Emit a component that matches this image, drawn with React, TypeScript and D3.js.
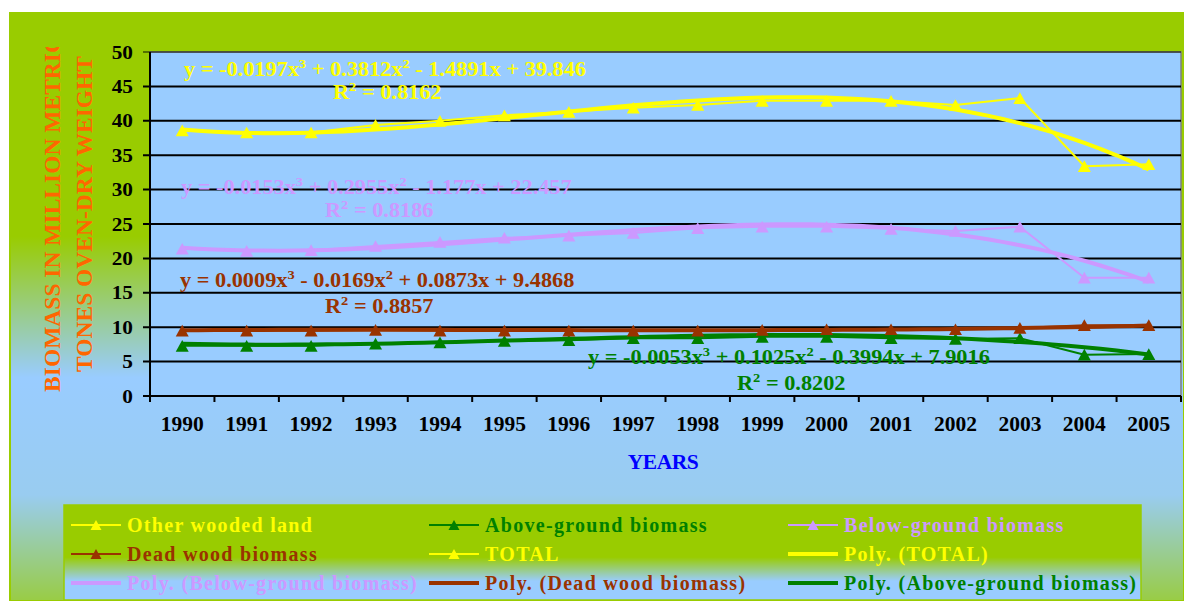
import React from 'react';
import * as d3 from 'd3';

// ---------- data ----------
const years = ['1990','1991','1992','1993','1994','1995','1996','1997','1998','1999','2000','2001','2002','2003','2004','2005'];
const totalValues = [38.6, 38.3, 38.3, 39.4, 40.0, 40.8, 41.3, 41.9, 42.3, 42.9, 42.9, 42.9, 42.3, 43.3, 33.4, 33.7];
const belowGroundValues = [21.4, 21.1, 21.2, 21.8, 22.4, 23.0, 23.3, 23.7, 24.4, 24.6, 24.6, 24.3, 24.0, 24.6, 17.2, 17.2];
const deadWoodValues = [9.5, 9.5, 9.5, 9.6, 9.5, 9.5, 9.5, 9.5, 9.5, 9.6, 9.7, 9.7, 9.7, 9.9, 10.3, 10.3];
const aboveGroundValues = [7.3, 7.3, 7.3, 7.6, 7.8, 8.0, 8.1, 8.4, 8.4, 8.6, 8.6, 8.4, 8.3, 8.4, 6.0, 6.1];
// "Other wooded land" appears only in the legend (no visible separate marks)
const otherWoodedValues: number[] = [];

// polynomial trend coefficients (x^3, x^2, x, c) and R^2 as printed on the chart
const totalCoef = [-0.0197, 0.3812, -1.4891, 39.846];
const belowCoef = [-0.0153, 0.2955, -1.177, 22.457];
const deadCoef = [0.0009, -0.0169, 0.0873, 9.4868];
const aboveCoef = [-0.0053, 0.1025, -0.3994, 7.9016];
const totalR2 = '0.8162';
const belowR2 = '0.8186';
const deadR2 = '0.8857';
const aboveR2 = '0.8202';

const yTicks = [0, 5, 10, 15, 20, 25, 30, 35, 40, 45, 50];

const C = {
  yellow: '#FFFF00',
  pink: '#CC99FF',
  brown: '#993300',
  green: '#008000',
};

const FONT = '"Liberation Serif", "Times New Roman", serif';

// ---------- layout ----------
const W = 1184, H = 601;
const chart = { x: 10, y: 13, w: 1174, h: 588 };
const plot = { left: 150, top: 52, right: 1181, bottom: 396 };

const x = d3.scaleBand<string>().domain(years).range([plot.left, plot.right]).paddingInner(0).paddingOuter(0);
const cx = (i: number) => (x(years[i]) as number) + x.bandwidth() / 2;
const xi = d3.scaleLinear().domain([1, 16]).range([cx(0), cx(15)]);
const y = d3.scaleLinear().domain([0, 50]).range([plot.bottom, plot.top]);

const poly = (c: number[]) => (t: number) => c[0] * t * t * t + c[1] * t * t + c[2] * t + c[3];

const lineGen = d3.line<number>().x((_, i) => cx(i)).y((d) => y(d));
const trendGen = (c: number[]) => {
  const f = poly(c);
  const ts = d3.range(1, 16.0001, 0.25);
  return d3.line<number>().x((t) => xi(t)).y((t) => y(f(t)))(ts) as string;
};

const tri = (px: number, py: number, s: number) => {
  const h = s * 0.9;
  return `M${px},${py - h / 2}L${px + s / 2},${py + h / 2}L${px - s / 2},${py + h / 2}Z`;
};

const fmt = (v: number) => String(Math.abs(v));
const sign = (v: number) => (v < 0 ? ' - ' : ' + ');
const STRETCH = 1.115;

function Equation({ coef, x0, yb, color }: { coef: number[]; x0: number; yb: number; color: string }) {
  return (
    <text transform={`translate(${x0},${yb}) scale(${STRETCH},1)`} fill={color} fontFamily={FONT} fontWeight="bold" fontSize={20} style={{ whiteSpace: 'pre' }}>
      <tspan>{`y = ${coef[0] < 0 ? '-' : ''}${fmt(coef[0])}x`}</tspan>
      <tspan dy={-8} fontSize={13}>3</tspan>
      <tspan dy={8}>{`${sign(coef[1])}${fmt(coef[1])}x`}</tspan>
      <tspan dy={-8} fontSize={13}>2</tspan>
      <tspan dy={8}>{`${sign(coef[2])}${fmt(coef[2])}x${sign(coef[3])}${fmt(coef[3])}`}</tspan>
    </text>
  );
}

function R2({ r2, x0, yb, color }: { r2: string; x0: number; yb: number; color: string }) {
  return (
    <text transform={`translate(${x0},${yb}) scale(${STRETCH},1)`} fill={color} fontFamily={FONT} fontWeight="bold" fontSize={20} style={{ whiteSpace: 'pre' }}>
      <tspan>R</tspan>
      <tspan dy={-8} fontSize={13}>2</tspan>
      <tspan dy={8}>{` = ${r2}`}</tspan>
    </text>
  );
}

const series = [
  { name: 'Other wooded land', values: otherWoodedValues, color: C.yellow },
  { name: 'Above-ground biomass', values: aboveGroundValues, color: C.green },
  { name: 'Below-ground biomass', values: belowGroundValues, color: C.pink },
  { name: 'Dead wood biomass', values: deadWoodValues, color: C.brown },
  { name: 'TOTAL', values: totalValues, color: C.yellow },
];

const trends = [
  { coef: totalCoef, color: C.yellow },
  { coef: belowCoef, color: C.pink },
  { coef: deadCoef, color: C.brown },
  { coef: aboveCoef, color: C.green },
];

const legendItems = [
  { label: 'Other wooded land', color: C.yellow, marker: true },
  { label: 'Above-ground biomass', color: C.green, marker: true },
  { label: 'Below-ground biomass', color: C.pink, marker: true },
  { label: 'Dead wood biomass', color: C.brown, marker: true },
  { label: 'TOTAL', color: C.yellow, marker: true },
  { label: 'Poly. (TOTAL)', color: C.yellow, marker: false },
  { label: 'Poly. (Below-ground biomass)', color: C.pink, marker: false },
  { label: 'Poly. (Dead wood biomass)', color: C.brown, marker: false },
  { label: 'Poly. (Above-ground biomass)', color: C.green, marker: false },
];
const legendCols = [71, 429, 788];
const legendRows = [525, 554, 583];
const legendBox = { x: 64, y: 505, w: 1077, h: 95 };

export default function App() {
  return (
    <svg width={W} height={H} style={{ position: 'absolute', left: 0, top: 0 }}>
      <defs>
        <linearGradient id="chartBg" x1="0" y1="0" x2="0" y2="1">
          <stop offset="0" stopColor="#99CC00" />
          <stop offset="0.38" stopColor="#99CC00" />
          <stop offset="0.62" stopColor="#99CCFF" />
          <stop offset="0.82" stopColor="#99CCF0" />
          <stop offset="1" stopColor="#99CC44" />
        </linearGradient>
        <linearGradient id="legendBg" x1="0" y1="0" x2="0" y2="1">
          <stop offset="0" stopColor="#99CC00" />
          <stop offset="0.55" stopColor="#99CC00" />
          <stop offset="0.8" stopColor="#99CCFF" />
          <stop offset="1" stopColor="#99CCFF" />
        </linearGradient>
        <clipPath id="titleClip">
          <rect x={0} y={47} width={140} height={H} />
        </clipPath>
      </defs>
      <rect x={0} y={0} width={W} height={H} fill="#FFFFFF" />
      <rect x={chart.x} y={chart.y} width={chart.w} height={chart.h} fill="url(#chartBg)" stroke="#99CC00" strokeWidth={2} />

      {/* plot area */}
      <rect x={plot.left} y={plot.top} width={plot.right - plot.left} height={plot.bottom - plot.top} fill="#99CCFF" stroke="#808080" strokeWidth={1.5} />
      {yTicks.map((t) => (
        <line key={t} x1={plot.left - 7} x2={plot.right} y1={y(t)} y2={y(t)} stroke="#000" strokeWidth={t === 50 ? 1.5 : 2} strokeOpacity={t === 50 ? 0.6 : 1} />
      ))}
      <line x1={plot.left} x2={plot.left} y1={plot.top} y2={plot.bottom} stroke="#000" strokeWidth={2} />
      {d3.range(years.length + 1).map((i) => {
        const px = plot.left + i * x.bandwidth();
        return <line key={i} x1={px} x2={px} y1={plot.bottom} y2={plot.bottom + 6} stroke="#000" strokeWidth={2} />;
      })}

      {/* y tick labels */}
      {yTicks.map((t) => (
        <text key={t} transform={`translate(133,${y(t) + 6.5}) scale(1.12,1)`} textAnchor="end" fontFamily={FONT} fontWeight="bold" fontSize={19} fill="#000">
          {t}
        </text>
      ))}
      {/* x tick labels */}
      {years.map((yr, i) => (
        <text key={yr} x={cx(i)} y={431} textAnchor="middle" fontFamily={FONT} fontWeight="bold" fontSize={21.5} fill="#000">
          {yr}
        </text>
      ))}

      {/* axis titles */}
      <g clipPath="url(#titleClip)">
        <text transform="translate(60,214) rotate(-90)" textAnchor="middle" fontFamily={FONT} fontWeight="bold" fontSize={23.5} fill="#FF6600">
          BIOMASS IN MILLION METRIC
        </text>
        <text transform="translate(92,214) rotate(-90)" textAnchor="middle" fontFamily={FONT} fontWeight="bold" fontSize={23.5} fill="#FF6600">
          TONES OVEN-DRY WEIGHT
        </text>
      </g>
      <text x={663} y={469} textAnchor="middle" fontFamily={FONT} fontWeight="bold" fontSize={21.5} fill="#0000FF" letterSpacing={-0.5}>
        YEARS
      </text>

      {/* trend lines */}
      {trends.map((t, i) => (
        <path key={i} d={trendGen(t.coef)} fill="none" stroke={t.color} strokeWidth={4} strokeLinejoin="round" />
      ))}

      {/* data series */}
      {series.map((s) =>
        s.values.length ? (
          <g key={s.name}>
            <path d={lineGen(s.values) as string} fill="none" stroke={s.color} strokeWidth={2} />
            {s.values.map((v, i) => (
              <path key={i} d={tri(cx(i), y(v), 13)} fill={s.color} />
            ))}
          </g>
        ) : null
      )}

      {/* equations */}
      <Equation coef={totalCoef} x0={184} yb={76} color={C.yellow} />
      <R2 r2={totalR2} x0={333} yb={99} color={C.yellow} />
      <Equation coef={belowCoef} x0={181} yb={194} color={C.pink} />
      <R2 r2={belowR2} x0={325} yb={217} color={C.pink} />
      <Equation coef={deadCoef} x0={180} yb={287} color={C.brown} />
      <R2 r2={deadR2} x0={325} yb={313} color={C.brown} />
      <Equation coef={aboveCoef} x0={588} yb={364} color={C.green} />
      <R2 r2={aboveR2} x0={737} yb={390} color={C.green} />

      {/* legend */}
      <rect x={legendBox.x} y={legendBox.y} width={legendBox.w} height={legendBox.h} fill="url(#legendBg)" stroke="#99CC00" strokeWidth={1.5} />
      {legendItems.map((it, k) => {
        const lx = legendCols[k % 3];
        const ly = legendRows[Math.floor(k / 3)];
        return (
          <g key={it.label}>
            <line x1={lx} x2={lx + 50} y1={ly} y2={ly} stroke={it.color} strokeWidth={it.marker ? 2 : 4} />
            {it.marker && <path d={tri(lx + 25, ly, 11)} fill={it.color} />}
            <text x={lx + 56} y={ly + 7} fontFamily={FONT} fontWeight="bold" fontSize={20} letterSpacing={1.3} fill={it.color}>
              {it.label}
            </text>
          </g>
        );
      })}
    </svg>
  );
}
